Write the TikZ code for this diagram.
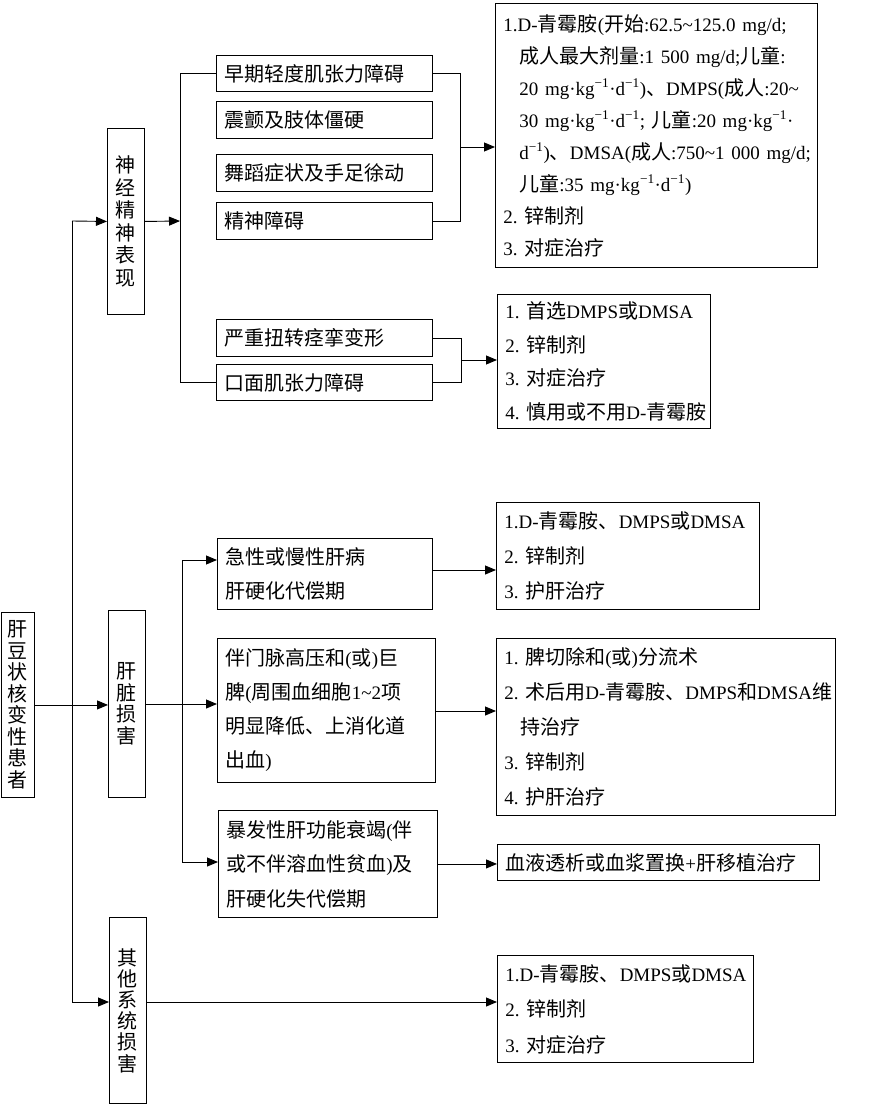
\documentclass[tikz,border=0pt]{standalone}
\usepackage{fontspec}
\setmainfont{Noto Sans CJK SC}
\newfontfamily\lat{Liberation Serif}[Scale=0.95]
\usetikzlibrary{arrows.meta}
\newcommand{\mi}{\textsuperscript{−1}}
\newcommand{\tl}{\textasciitilde}
\newcommand{\dun}{、}
\begin{document}
\begin{tikzpicture}[x=1pt,y=-1pt,
  box/.style={draw, line width=0.9pt, anchor=north west, inner xsep=8pt, inner ysep=0pt, align=left},
  vbox/.style={draw, line width=0.9pt, anchor=north west, inner sep=0pt, align=center},
  arr/.style={line width=0.9pt, -{Triangle[length=11pt,width=9pt]}},
  ln/.style={line width=0.9pt}]
\fill[white] (0,0) rectangle (890,1114);
\useasboundingbox (0,0) rectangle (890,1114);

% vertical boxes
\node[vbox, minimum width=33pt, minimum height=185pt, font=\fontsize{20}{21.5}\selectfont] (root) at (1,612) {肝\\豆\\状\\核\\变\\性\\患\\者};
\node[vbox, minimum width=37pt, minimum height=186pt, font=\fontsize{20}{22.5}\selectfont] (n1) at (107,128) {神\\经\\精\\神\\表\\现};
\node[vbox, minimum width=37pt, minimum height=187pt, font=\fontsize{20}{21.5}\selectfont] (n2) at (108,610) {肝\\脏\\损\\害};
\node[vbox, minimum width=37pt, minimum height=186pt, font=\fontsize{20}{21.2}\selectfont] (n3) at (109,917) {其\\他\\系\\统\\损\\害};

% neuro symptoms
\node[box, text width=200pt, minimum height=36pt, font=\fontsize{20}{24}\selectfont] (a1) at (216,55) {早期轻度肌张力障碍};
\node[box, text width=200pt, minimum height=37pt, font=\fontsize{20}{24}\selectfont] (a2) at (216,101) {震颤及肢体僵硬};
\node[box, text width=200pt, minimum height=37pt, font=\fontsize{20}{24}\selectfont] (a3) at (216,154) {舞蹈症状及手足徐动};
\node[box, text width=200pt, minimum height=37pt, font=\fontsize{20}{24}\selectfont] (a4) at (216,202) {精神障碍};
\node[box, text width=200pt, minimum height=37pt, font=\fontsize{20}{24}\selectfont] (b1) at (216,319) {严重扭转痉挛变形};
\node[box, text width=200pt, minimum height=36pt, font=\fontsize{20}{24}\selectfont] (b2) at (216,364) {口面肌张力障碍};

% neuro treatments
\node[box, text width=306pt, minimum height=264pt, font=\fontsize{20}{32}\selectfont] (t1) at (495,3) {%
\mbox{{\lat 1.D-}青霉胺{\lat (}开始{\lat :62.5\tl125.0~mg/d;}}\\
\mbox{\hspace*{16pt}成人最大剂量{\lat :1~500~mg/d;}儿童{\lat :}}\\
\mbox{\hspace*{16pt}{\lat 20~mg·kg\mi·d\mi)}\dun{\lat DMPS(}成人{\lat :20\tl}}\\
\mbox{\hspace*{16pt}{\lat 30~mg·kg\mi·d\mi;~}儿童{\lat :20~mg·kg\mi·}}\\
\mbox{\hspace*{16pt}{\lat d\mi)}\dun{\lat DMSA(}成人{\lat :750\tl1~000~mg/d;}}\\
\mbox{\hspace*{16pt}儿童{\lat :35~mg·kg\mi·d\mi)}}\\
\mbox{{\lat 2.~}锌制剂}\\
\mbox{{\lat 3.~}对症治疗}};
\node[box, text width=197pt, minimum height=134pt, font=\fontsize{20}{33.7}\selectfont] (t2) at (497,294) {%
\mbox{{\lat 1.~}首选{\lat DMPS}或{\lat DMSA}}\\
\mbox{{\lat 2.~}锌制剂}\\
\mbox{{\lat 3.~}对症治疗}\\
\mbox{{\lat 4.~}慎用或不用{\lat D-}青霉胺}};

% liver
\node[box, text width=199pt, minimum height=71pt, font=\fontsize{20}{34}\selectfont] (c1) at (217,538) {急性或慢性肝病\\肝硬化代偿期};
\node[box, text width=202pt, minimum height=144pt, font=\fontsize{20}{34}\selectfont] (c2) at (217,638) {%
\mbox{伴门脉高压和{\lat (}或{\lat )}巨}\\
\mbox{脾{\lat (}周围血细胞{\lat 1\tl2}项}\\
\mbox{明显降低、上消化道}\\
\mbox{出血{\lat )}}};
\node[box, text width=203pt, minimum height=107pt, font=\fontsize{20}{34.5}\selectfont] (c3) at (218,810) {%
\mbox{暴发性肝功能衰竭{\lat (}伴}\\
\mbox{或不伴溶血性贫血{\lat )}及}\\
\mbox{肝硬化失代偿期}};

\node[box, text width=247pt, minimum height=107pt, font=\fontsize{20}{35}\selectfont] (d1) at (496,502) {%
\mbox{{\lat 1.D-}青霉胺\dun{\lat DMPS}或{\lat DMSA}}\\
\mbox{{\lat 2.~}锌制剂}\\
\mbox{{\lat 3.~}护肝治疗}};
\node[box, text width=323pt, minimum height=177pt, font=\fontsize{20}{35}\selectfont] (d2) at (496,638) {%
\mbox{{\lat 1.~}脾切除和{\lat (}或{\lat )}分流术}\\
\mbox{{\lat 2.~}术后用{\lat D-}青霉胺\dun{\lat DMPS}和{\lat DMSA}维}\\
\mbox{\hspace*{16pt}持治疗}\\
\mbox{{\lat 3.~}锌制剂}\\
\mbox{{\lat 4.~}护肝治疗}};
\node[box, text width=306pt, minimum height=36pt, font=\fontsize{20}{24}\selectfont] (d3) at (497,844) {血液透析或血浆置换{\lat +}肝移植治疗};

% other
\node[box, text width=240pt, minimum height=107pt, font=\fontsize{20}{35.5}\selectfont] (e1) at (497,955) {%
\mbox{{\lat 1.D-}青霉胺\dun{\lat DMPS}或{\lat DMSA}}\\
\mbox{{\lat 2.~}锌制剂}\\
\mbox{{\lat 3.~}对症治疗}};

% spine
\coordinate (s1) at (72,221);
\coordinate (s3) at (72,1002);
\draw[ln] (s1) -- (s3);
\draw[arr] (s1) -- (n1.west);
\draw[arr] (s3) -- (s3 -| n3.west);
\draw[arr] (root.east) -- (root.east -| n2.west);

% neuro connectors
\coordinate (v1) at (180,221);
\draw[arr] (n1.east) -- (v1);
\draw[ln] (a1.west) -- (a1.west -| v1) -- (b2.west -| v1) -- (b2.west);
\coordinate (r1) at (460,147);
\draw[ln] (a1.east) -- (a1.east -| r1) -- (a4.east -| r1) -- (a4.east);
\draw[arr] (r1) -- (r1 -| t1.west);
\coordinate (r2) at (461,360);
\draw[ln] (b1.east) -- (b1.east -| r2) -- (b2.east -| r2) -- (b2.east);
\draw[arr] (r2) -- (r2 -| t2.west);

% liver connectors
\coordinate (l1) at (182,560);
\coordinate (l2) at (182,704);
\coordinate (l3) at (182,862);
\draw[ln] (n2.east) -- (n2.east -| l2);
\draw[ln] (l1) -- (l3);
\draw[arr] (l1) -- (l1 -| c1.west);
\draw[arr] (l2) -- (l2 -| c2.west);
\draw[arr] (l3) -- (l3 -| c3.west);
\coordinate (o1) at (0,570);
\draw[arr] (c1.east |- o1) -- (d1.west |- o1);
\coordinate (o2) at (0,711);
\draw[arr] (c2.east |- o2) -- (d2.west |- o2);
\draw[arr] (c3.east) -- (c3.east -| d3.west);

% other connector
\draw[arr] (s3 -| n3.east) -- (s3 -| e1.west);
\end{tikzpicture}
\end{document}
